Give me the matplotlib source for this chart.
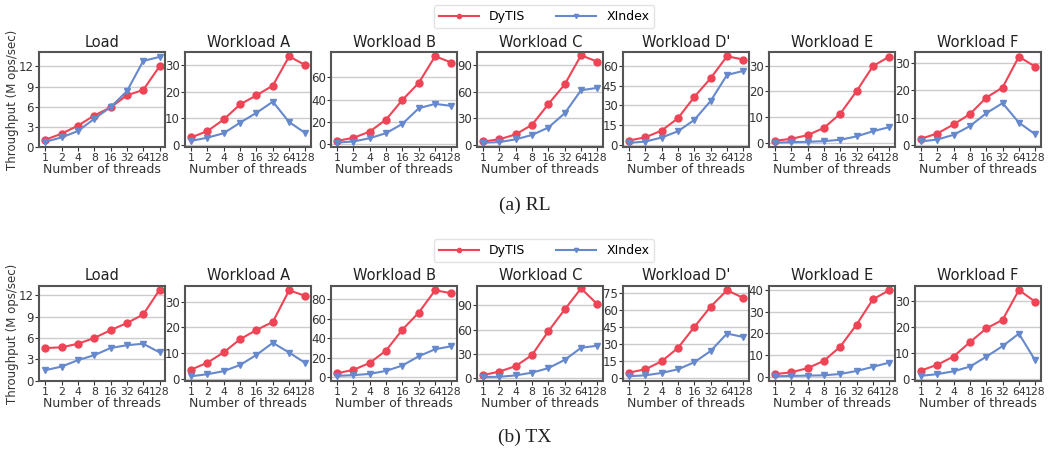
import matplotlib.pyplot as plt

threads = ["1", "2", "4", "8", "16", "32", "64", "128"]
titles = ["Load", "Workload A", "Workload B", "Workload C", "Workload D'", "Workload E", "Workload F"]

# (a) RL
rl_dytis = [
    [1.1, 2.0, 3.2, 4.7, 5.9, 7.7, 8.5, 12.0],
    [2.7, 5.1, 9.5, 15.2, 18.6, 22.3, 33.3, 30.0],
    [3.0, 5.7, 11.3, 22.1, 39.7, 54.9, 78.8, 73.1],
    [3.8, 6.2, 11.9, 22.7, 46.2, 68.5, 101.5, 94.2],
    [3.1, 5.6, 10.7, 20.2, 36.5, 50.8, 67.6, 65.1],
    [0.8, 1.55, 3.0, 5.8, 11.3, 20.1, 29.8, 33.5],
    [2.3, 4.2, 7.5, 11.3, 17.3, 21.0, 32.3, 28.6],
]
rl_xindex = [
    [0.8, 1.45, 2.4, 4.2, 5.95, 8.3, 12.8, 13.4],
    [1.4, 2.6, 4.3, 8.3, 12.0, 16.2, 8.5, 4.3],
    [1.5, 2.4, 5.4, 9.9, 18.2, 32.2, 36.1, 34.3],
    [2.3, 3.1, 6.2, 11.2, 19.6, 35.8, 61.9, 64.6],
    [1.3, 2.3, 5.4, 10.2, 18.9, 33.4, 53.3, 56.4],
    [0.1, 0.26, 0.4, 0.65, 1.2, 2.5, 4.5, 6.1],
    [1.3, 2.0, 3.7, 6.9, 11.6, 15.3, 8.2, 3.9],
]
rl_yticks = [[0, 3, 6, 9, 12], [0, 10, 20, 30], [0, 20, 40, 60], [0, 30, 60, 90],
             [0, 15, 30, 45, 60], [0, 10, 20, 30], [0, 10, 20, 30]]
rl_ylim = [(0, 14.1), (-1.0, 34.9), (-2.7, 82.4), (-2.7, 105), (-2.0, 70.7), (-1.7, 35.2), (-0.8, 33.9)]

# (b) TX
tx_dytis = [
    [4.6, 4.7, 5.2, 6.0, 7.1, 8.1, 9.3, 12.75],
    [3.6, 6.3, 10.3, 15.4, 19.0, 22.1, 34.4, 32.2],
    [4.1, 7.5, 14.7, 27.4, 48.9, 66.3, 89.2, 86.2],
    [3.8, 8.1, 14.9, 28.6, 58.0, 84.9, 110.9, 91.3],
    [4.7, 7.6, 14.6, 26.4, 44.8, 62.7, 77.1, 70.3],
    [1.1, 2.0, 3.9, 7.3, 13.9, 24.1, 35.8, 40.0],
    [3.2, 5.4, 8.6, 14.1, 19.4, 22.7, 34.2, 29.7],
]
tx_xindex = [
    [1.5, 2.0, 2.9, 3.6, 4.6, 5.0, 5.2, 4.0],
    [1.0, 1.8, 3.0, 5.4, 9.3, 14.0, 10.2, 6.1],
    [1.4, 2.1, 3.4, 6.5, 12.0, 21.5, 28.7, 31.8],
    [1.3, 1.7, 3.4, 6.8, 12.4, 22.6, 37.5, 40.1],
    [1.5, 2.3, 4.4, 7.6, 13.8, 23.7, 39.0, 36.0],
    [0.15, 0.3, 0.46, 0.6, 1.2, 2.6, 4.5, 6.5],
    [1.15, 1.8, 2.9, 4.7, 8.5, 12.6, 17.4, 7.1],
]
tx_yticks = [[0, 3, 6, 9, 12], [0, 10, 20, 30], [0, 20, 40, 60, 80], [0, 30, 60, 90],
             [0, 15, 30, 45, 60, 75], [0, 10, 20, 30, 40], [0, 10, 20, 30]]
tx_ylim = [(0, 13.3), (-0.8, 36.1), (-3.8, 93.7), (-3.4, 114), (-2.6, 80.9), (-2.0, 42), (-0.8, 35.8)]

red = "#ee4455"
blue = "#6688cc"

fig, axes = plt.subplots(2, 7, figsize=(10.52, 4.54), dpi=100)
plt.subplots_adjust(left=0.0375, right=0.9895, top=0.885, bottom=0.161, wspace=0.16, hspace=1.46)

rows = [(rl_dytis, rl_xindex, rl_yticks, rl_ylim), (tx_dytis, tx_xindex, tx_yticks, tx_ylim)]
x = list(range(len(threads)))
for r, (dy, xi, yt, yl) in enumerate(rows):
    for i in range(7):
        ax = axes[r][i]
        ax.plot(x, dy[i], color=red, marker="o", markersize=5, linewidth=1.5, label="DyTIS")
        ax.plot(x, xi[i], color=blue, marker="v", markersize=5, linewidth=1.5, label="XIndex")
        ax.set_xticks(x)
        ax.set_xticklabels(threads)
        ax.set_yticks(yt[i])
        ax.set_ylim(yl[i])
        ax.set_xlim(-0.35, 7.35)
        ax.grid(axis="y", color="#cccccc", linewidth=1)
        ax.set_axisbelow(True)
        for s in ax.spines.values():
            s.set_color("#555555")
            s.set_linewidth(1.5)
        ax.tick_params(axis="y", labelsize=8.5, colors="#333333", length=3, pad=1)
        ax.tick_params(axis="x", labelsize=7.8, colors="#333333", length=3, pad=1.5)
        ax.set_title(titles[i], fontsize=10.5, color="#222222", pad=4)
        ax.set_xlabel("Number of threads", fontsize=9, color="#333333", labelpad=0)
    axes[r][0].set_ylabel("Throughput (M ops/sec)", fontsize=8.5, color="#333333", labelpad=0)

h, l = axes[0][0].get_legend_handles_labels()
for yy in [1 - 5 / 454, 1 - 239 / 454]:
    fig.legend(h, l, loc="upper center", bbox_to_anchor=(544 / 1052, yy), ncol=2,
               fontsize=9, markerscale=0.6, handlelength=3.2, columnspacing=2.5,
               frameon=True, edgecolor="#dddddd", borderpad=0.4, borderaxespad=0)

fig.text(525 / 1052, 1 - 205 / 454, "(a) RL", ha="center", va="center",
         fontsize=14, family="Liberation Serif", color="#222222")
fig.text(525 / 1052, 1 - 437 / 454, "(b) TX", ha="center", va="center",
         fontsize=14, family="Liberation Serif", color="#222222")

plt.savefig("out.png")
